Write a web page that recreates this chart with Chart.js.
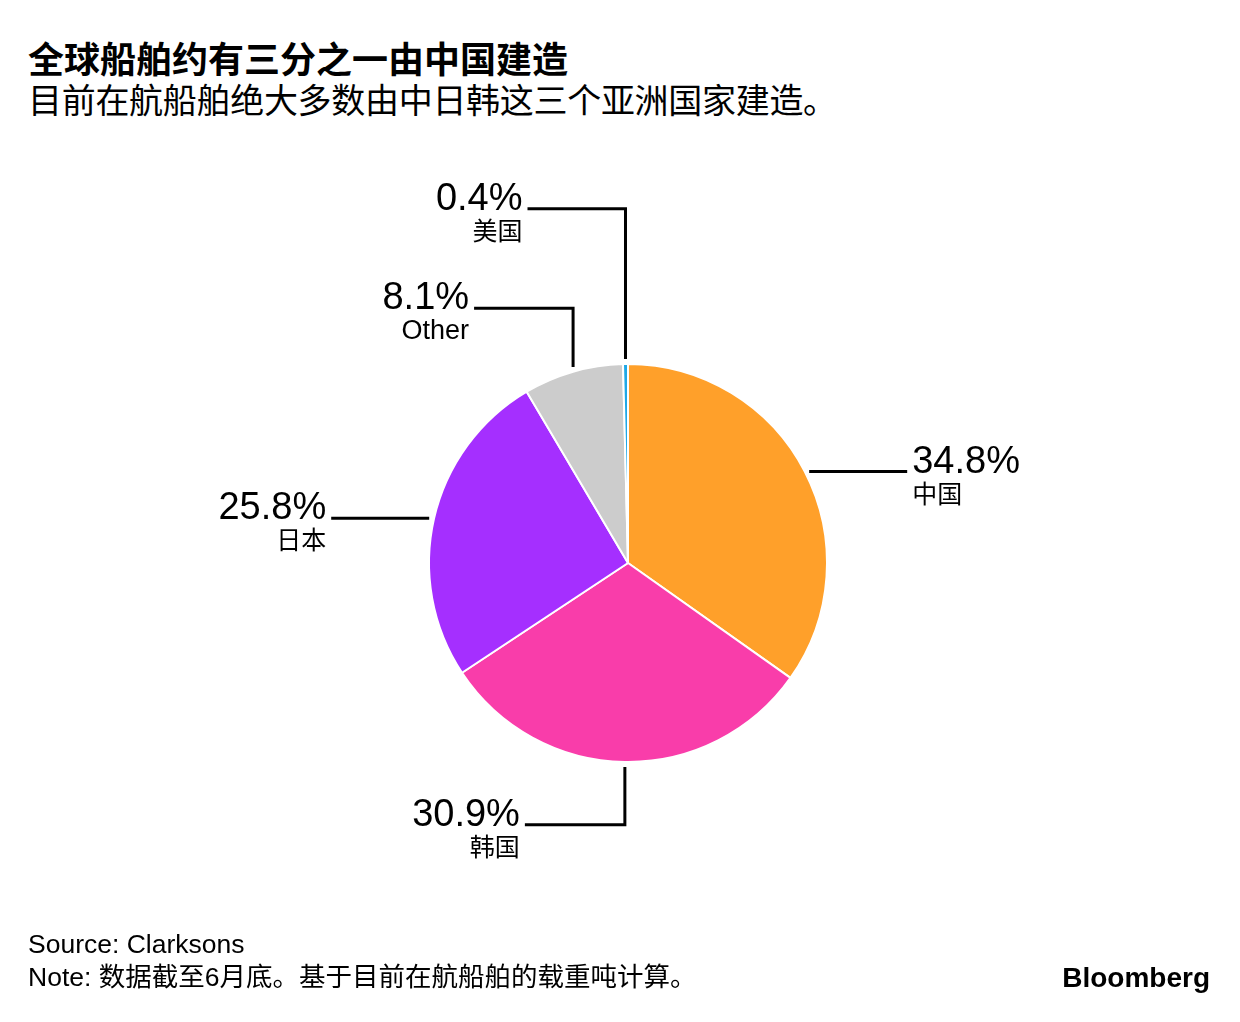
<!DOCTYPE html>
<html><head><meta charset="utf-8">
<script src="https://cdn.jsdelivr.net/npm/chart.js@4.4.1/dist/chart.umd.min.js"></script>
<style>
html,body{margin:0;padding:0;background:#fff;width:1240px;height:1022px;overflow:hidden;}
#wrap{position:absolute;left:0;top:0;width:1240px;height:1022px;}
.t{position:absolute;left:28px;color:#000;font-family:"Liberation Sans","Noto Sans CJK SC",sans-serif;white-space:nowrap;line-height:1.2;}
#title{top:36px;font-size:36px;font-weight:bold;font-family:"Noto Sans CJK SC",sans-serif;letter-spacing:0px;}
#sub{top:79px;font-size:34px;font-family:"Noto Sans CJK SC",sans-serif;letter-spacing:-0.3px;}
#src{top:929px;font-size:26.5px;}
#note{top:962px;font-size:26.5px;}
#logo{position:absolute;right:30px;top:962px;font-size:28px;font-weight:bold;font-family:"Liberation Sans",sans-serif;color:#000;}
</style></head>
<body>
<div class="t" id="title">全球船舶约有三分之一由中国建造</div>
<div class="t" id="sub">目前在航船舶绝大多数由中日韩这三个亚洲国家建造。</div>
<div id="wrap"><canvas id="c" width="1240" height="1022"></canvas></div>
<div class="t" id="src">Source: Clarksons</div>
<div class="t" id="note">Note: 数据截至6月底。基于目前在航船舶的载重吨计算。</div>
<div id="logo">Bloomberg</div>
<script>
const categories = ["中国", "韩国", "日本", "Other", "美国"];
const shares = [34.8, 30.9, 25.8, 8.1, 0.4];
const valueLabels = ["34.8%", "30.9%", "25.8%", "8.1%", "0.4%"];
const colors = ["#FFA02A", "#F93DAA", "#A52FFF", "#CCCCCC", "#1FA8E6"];

// leader layout: 'h' = horizontal from arc mid; 'v' = vertical to elbow then horizontal
const leaders = [
  {type:'h', len:98},
  {type:'v', elbow:1.315, len:-100},
  {type:'h', len:98},
  {type:'v', elbow:-1.28, len:-99},
  {type:'v', elbow:-1.78, len:-98}
];

const labelPlugin = {
  id:'leaderLabels',
  afterDatasetsDraw(chart){
    const ctx = chart.ctx;
    const meta = chart.getDatasetMeta(0);
    ctx.save();
    ctx.strokeStyle = '#000';
    ctx.lineWidth = 3;
    ctx.fillStyle = '#000';
    meta.data.forEach((arc, i) => {
      const cx = arc.x, cy = arc.y, r = arc.outerRadius;
      const mid = (arc.startAngle + arc.endAngle) / 2;
      const L = leaders[i];
      const gap = 5;
      let pts, ex, ey;
      if (L.type === 'h') {
        const dir = Math.cos(mid) >= 0 ? 1 : -1;
        ey = cy + Math.sin(mid) * r;
        const xs = cx + Math.cos(mid) * (r + gap);
        ex = xs + dir * L.len;
        pts = [[xs, ey], [ex, ey]];
      } else {
        const ax = cx + Math.cos(mid) * r;
        const ay = cy + Math.sin(mid) * (r + gap);
        ey = cy + L.elbow * r;
        ex = ax + L.len;
        pts = [[ax, ay], [ax, ey], [ex, ey]];
      }
      ctx.beginPath();
      ctx.lineJoin = 'miter';
      pts.forEach((p, k) => k ? ctx.lineTo(p[0], p[1]) : ctx.moveTo(p[0], p[1]));
      ctx.stroke();
      const right = ex > pts[0][0];
      const tx = right ? ex + 5 : ex - 5;
      ctx.textAlign = right ? 'left' : 'right';
      ctx.textBaseline = 'alphabetic';
      ctx.font = '38px "Liberation Sans", sans-serif';
      ctx.fillText(valueLabels[i], tx, ey + 1);
      ctx.textBaseline = 'top';
      const isLatin = /^[A-Za-z]/.test(categories[i]);
      ctx.font = isLatin ? '27px "Liberation Sans", sans-serif' : '25px "Noto Sans CJK SC", sans-serif';
      ctx.fillText(categories[i], tx, ey + (isLatin ? 10 : 9));
    });
    ctx.restore();
  }
};

new Chart(document.getElementById('c'), {
  type: 'pie',
  data: {
    labels: categories,
    datasets: [{
      data: shares,
      backgroundColor: colors,
      borderColor: '#fff',
      borderWidth: 2,
      hoverOffset: 0
    }]
  },
  options: {
    responsive: false,
    animation: false,
    events: [],
    layout: {padding: {left: 428, right: 412, top: 363, bottom: 259}},
    plugins: {legend: {display: false}, tooltip: {enabled: false}}
  },
  plugins: [labelPlugin]
});
</script>
</body></html>
